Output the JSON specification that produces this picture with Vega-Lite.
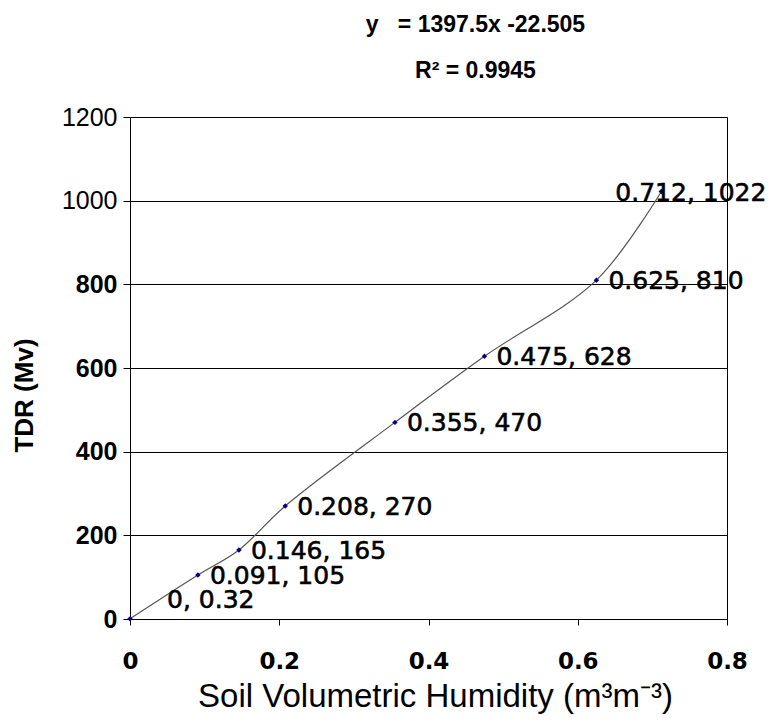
{
  "$schema": "https://vega.github.io/schema/vega-lite/v6.json",
  "width": 597,
  "height": 502,
  "autosize": "none",
  "padding": {"left": 130, "top": 117, "right": 43, "bottom": 102},
  "background": "white",
  "config": {
    "view": {"stroke": "black", "strokeWidth": 1},
    "font": "Liberation Sans"
  },
  "title": {
    "text": ["y\u00a0\u00a0\u00a0= 1397.5x -22.505", "R² = 0.9945"],
    "anchor": "middle",
    "dx": 47,
    "fontSize": 23,
    "fontWeight": "bold",
    "font": "Liberation Sans",
    "color": "black",
    "lineHeight": 46,
    "offset": 22
  },
  "data": {
    "values": [
      {"x": 0, "y": 0.32, "label": "0, 0.32"},
      {"x": 0.091, "y": 105, "label": "0.091, 105"},
      {"x": 0.146, "y": 165, "label": "0.146, 165"},
      {"x": 0.208, "y": 270, "label": "0.208, 270"},
      {"x": 0.355, "y": 470, "label": "0.355, 470"},
      {"x": 0.475, "y": 628, "label": "0.475, 628"},
      {"x": 0.625, "y": 810, "label": "0.625, 810"},
      {"x": 0.712, "y": 1022, "label": "0.712, 1022"}
    ]
  },
  "encoding": {
    "x": {
      "field": "x", "type": "quantitative",
      "scale": {"domain": [0, 0.8], "nice": false},
      "axis": {
        "values": [0, 0.2, 0.4, 0.6, 0.8],
        "format": "~g",
        "title": "Soil Volumetric Humidity (m³m⁻³)",
        "titleFont": "Liberation Sans",
        "titleFontSize": 33,
        "titleFontWeight": "normal",
        "titleColor": "black",
        "titleX": 305,
        "titleY": 87,
        "titleBaseline": "alphabetic",
        "titleAlign": "center",
        "labelFont": "DejaVu Sans",
        "labelFontSize": 23,
        "labelFontWeight": "bold",
        "labelColor": "black",
        "labelPadding": 25,
        "labelFlush": false,
        "domainColor": "black",
        "tickColor": "black",
        "tickSize": 6,
        "grid": false
      }
    },
    "y": {
      "field": "y", "type": "quantitative",
      "scale": {"domain": [0, 1200], "nice": false},
      "axis": {
        "values": [0, 200, 400, 600, 800, 1000, 1200],
        "format": "d",
        "title": "TDR (Mv)",
        "titleFont": "Liberation Sans",
        "titleFontSize": 26,
        "titleFontWeight": "bold",
        "titleColor": "black",
        "titleX": -106,
        "titleY": 278,
        "titleAngle": -90,
        "titleBaseline": "middle",
        "titleAlign": "center",
        "labelFont": "Liberation Sans",
        "labelFontSize": 25,
        "labelFontWeight": {"condition": {"test": "datum.value >= 1000", "value": "normal"}, "value": "bold"},
        "labelColor": "black",
        "labelPadding": 6,
        "labelFlush": false,
        "domainColor": "black",
        "tickColor": "black",
        "tickSize": 7,
        "grid": true,
        "gridColor": "black",
        "gridOpacity": 1,
        "gridWidth": 1
      }
    }
  },
  "layer": [
    {
      "mark": {"type": "line", "interpolate": "catmull-rom", "color": "#555555", "strokeWidth": 1.2}
    },
    {
      "mark": {"type": "point", "shape": "diamond", "filled": true, "size": 30, "color": "#00008B", "opacity": 1}
    },
    {
      "transform": [{"filter": "datum.x > 0 && datum.x < 0.7"}],
      "mark": {"type": "text", "align": "left", "baseline": "middle", "dx": 12, "dy": 1, "font": "DejaVu Sans", "fontSize": 25, "color": "black", "stroke": "black", "strokeWidth": 0.6},
      "encoding": {"text": {"field": "label"}}
    },
    {
      "transform": [{"filter": "datum.x >= 0.7"}],
      "mark": {"type": "text", "align": "left", "baseline": "middle", "dx": -46, "dy": 2, "font": "DejaVu Sans", "fontSize": 25, "color": "black", "stroke": "black", "strokeWidth": 0.6},
      "encoding": {"text": {"field": "label"}}
    },
    {
      "transform": [{"filter": "datum.x == 0"}],
      "mark": {"type": "text", "align": "left", "baseline": "middle", "dx": 37, "dy": -19, "font": "DejaVu Sans", "fontSize": 25, "color": "black", "stroke": "black", "strokeWidth": 0.6},
      "encoding": {"text": {"field": "label"}}
    }
  ]
}
